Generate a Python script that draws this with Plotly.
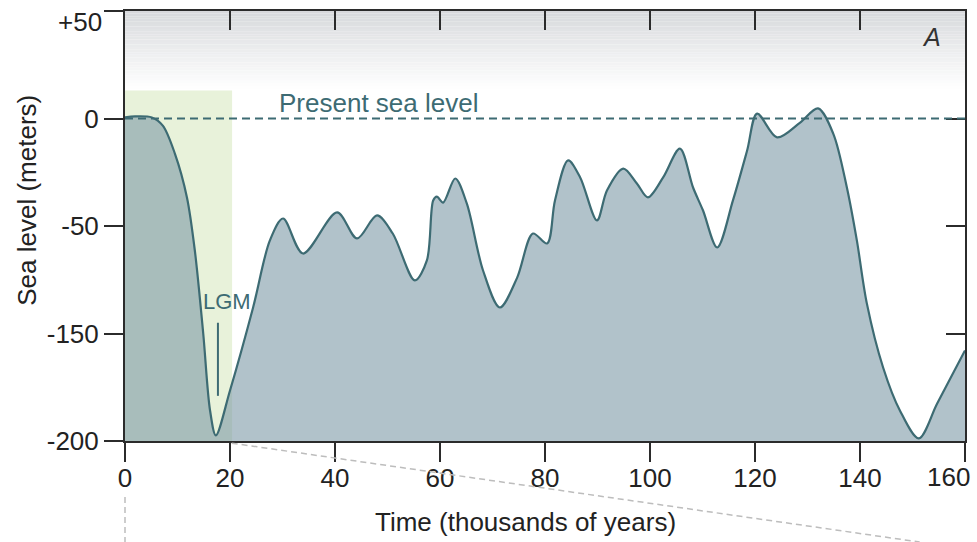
import plotly.graph_objects as go

# ---- data (time in thousands of years, sea level in axis units) ----
time_ky = [0, 1.9, 5.1, 7.2, 9.5, 11.8, 13.3, 14.9, 16.2, 17.3, 20.0, 24.4, 27.6, 30.1,
           33.9, 40.4, 44.2, 48.0, 51.0, 55.2, 57.5, 58.7, 59.4, 60.6, 62.9, 65.1, 68.2,
           71.4, 74.7, 77.7, 80.4, 81.9, 84.4, 86.7, 89.9, 91.8, 94.9, 97.5, 99.6, 102.5,
           105.7, 108.2, 110.1, 112.8, 115.8, 118.5, 120.4, 124.2, 128.6, 132.0, 134.9,
           137.5, 139.4, 141.3, 144.4, 147.6, 151.2, 154.7, 160]
sea_level = [0.5, 1.0, 0.5, -3.3, -16.3, -36.7, -61.4, -100, -135.8, -147.4, -126.5, -87.9,
             -56.7, -46.5, -62.8, -43.7, -55.8, -45.1, -53.5, -75.3, -66, -38.1, -36.3,
             -39.1, -27.9, -39.5, -70.7, -87.9, -74, -53.5, -58.1, -38.1, -19.5, -27.4,
             -47.4, -33.5, -23.3, -30.2, -36.7, -27.4, -14, -32.1, -42.8, -60, -38.1,
             -14.9, 2.3, -8.8, -1.9, 4.7, -7, -32.1, -56.7, -86, -115.8, -135.8, -148.8,
             -132.6, -107.9]

xtick_vals = [0, 20, 40, 60, 80, 100, 120, 140, 160]
xtick_labels = ["0", "20", "40", "60", "80", "100", "120", "140", "160"]
ytick_vals = [50, 0, -50, -100, -150]
ytick_labels = ["+50", "0", "-50", "-150", "-200"]

lgm_x = 17.7
lgm_band_end = 20.4
band_top = 13

X_RANGE = [0, 160]
Y_RANGE = [-150, 50]

LINE_C = "#3d6b73"
AX_C = "#2b2b2b"
FONT = "Liberation Sans, Arial, sans-serif"
TICK_FONT = dict(family=FONT, size=26, color="#222")

# edge labels (last x, first y) are placed as annotations so they stay inside the page
x_ticktext = xtick_labels[:-1] + [""]
y_ticktext = [""] + ytick_labels[1:]

fig = go.Figure()

# baseline for the fill
fig.add_trace(go.Scatter(x=[X_RANGE[0], X_RANGE[1]], y=[Y_RANGE[0], Y_RANGE[0]],
                         mode="lines", line=dict(width=0, color="rgba(0,0,0,0)"),
                         hoverinfo="skip", showlegend=False))
fig.add_trace(go.Scatter(x=time_ky, y=sea_level, mode="lines",
                         line=dict(color=LINE_C, width=2.2, shape="spline", smoothing=0.9),
                         fill="tonexty", fillcolor="rgba(125,153,167,0.6)",
                         showlegend=False))
# dummy trace for mirrored (inside) axes
fig.add_trace(go.Scatter(x=[None], y=[None], xaxis="x2", yaxis="y2", showlegend=False))

shapes = []
# gradient at top of plot area
n = 30
g_top, g_bot = 50, 14
for i in range(n):
    y1 = g_top - (g_top - g_bot) * i / n
    y0 = g_top - (g_top - g_bot) * (i + 1) / n
    t = (i + 0.5) / n
    f = t ** 0.9
    r = int(214 + (255 - 214) * f)
    g = int(216 + (255 - 216) * f)
    b = int(219 + (255 - 219) * f)
    shapes.append(dict(type="rect", xref="x", yref="y", x0=X_RANGE[0], x1=X_RANGE[1],
                       y0=y0, y1=y1, fillcolor=f"rgb({r},{g},{b})", line=dict(width=0),
                       layer="below"))
# LGM band
shapes.append(dict(type="rect", xref="x", yref="y", x0=0, x1=lgm_band_end, y0=Y_RANGE[0],
                   y1=band_top, fillcolor="#e8f2da", line=dict(width=0), layer="below"))
# present sea level dashed line
shapes.append(dict(type="line", xref="x", yref="y", x0=0, x1=160, y0=0, y1=0,
                   line=dict(color=LINE_C, width=1.8, dash="8px,5px"), layer="above"))
# LGM marker line
shapes.append(dict(type="line", xref="x", yref="y", x0=lgm_x, x1=lgm_x, y0=-95, y1=-129,
                   line=dict(color=LINE_C, width=2), layer="above"))
# connector dashed lines to panel below
shapes.append(dict(type="line", xref="paper", yref="paper", x0=0, x1=0, y0=-0.13, y1=-0.24,
                   line=dict(color="#bdbdbd", width=1.5, dash="6px,4px")))
shapes.append(dict(type="line", xref="paper", yref="paper", x0=0.127, x1=0.946, y0=-0.005,
                   y1=-0.235, line=dict(color="#bdbdbd", width=1.5, dash="6px,4px")))

annotations = [
    dict(text="Present sea level", x=48.3, y=7.4, xref="x", yref="y", showarrow=False,
         font=dict(family=FONT, size=26, color=LINE_C), xanchor="center", yanchor="middle"),
    dict(text="LGM", x=19.5, y=-85, xref="x", yref="y", showarrow=False,
         font=dict(family=FONT, size=22, color=LINE_C), xanchor="center", yanchor="middle"),
    dict(text="<i>A</i>", x=153.7, y=38, xref="x", yref="y", showarrow=False,
         font=dict(family=FONT, size=25, color="#333"), xanchor="center", yanchor="middle"),
    dict(text="Sea level (meters)", x=-0.116, y=0.56, xref="paper", yref="paper",
         showarrow=False, textangle=-90, font=dict(family=FONT, size=26, color="#222"),
         xanchor="center", yanchor="middle"),
    dict(text="Time (thousands of years)", x=0.477, y=-0.188, xref="paper", yref="paper",
         showarrow=False, font=dict(family=FONT, size=26, color="#222"),
         xanchor="center", yanchor="middle"),
    # edge tick labels
    dict(text=xtick_labels[-1], x=xtick_vals[-1], y=0, xref="x", yref="paper",
         showarrow=False, font=TICK_FONT, xanchor="right", yanchor="middle",
         xshift=7, yshift=-36),
    dict(text=ytick_labels[0], x=0, y=ytick_vals[0], xref="paper", yref="y",
         showarrow=False, font=TICK_FONT, xanchor="right", yanchor="middle",
         xshift=-21, yshift=-11),
]

axis_common = dict(showgrid=False, zeroline=False, showline=True, linewidth=2,
                   linecolor=AX_C, tickwidth=2, tickcolor=AX_C, ticklen=19,
                   automargin=False, tickfont=TICK_FONT)

fig.update_layout(
    width=977, height=542,
    margin=dict(l=125, r=12, t=11, b=101, autoexpand=False),
    paper_bgcolor="white", plot_bgcolor="white",
    shapes=shapes, annotations=annotations,
    xaxis=dict(range=X_RANGE, tickvals=xtick_vals, ticktext=x_ticktext, ticks="outside",
               ticklabelstandoff=-6, **axis_common),
    yaxis=dict(range=Y_RANGE, tickvals=ytick_vals, ticktext=y_ticktext, ticks="outside",
               **axis_common),
    xaxis2=dict(range=X_RANGE, tickvals=xtick_vals, ticks="inside", overlaying="x",
                side="top", anchor="y2", showticklabels=False, **axis_common),
    yaxis2=dict(range=Y_RANGE, tickvals=ytick_vals, ticks="inside", overlaying="y",
                side="right", anchor="x2", showticklabels=False, **axis_common),
    showlegend=False,
)

fig.write_html("out.html")
